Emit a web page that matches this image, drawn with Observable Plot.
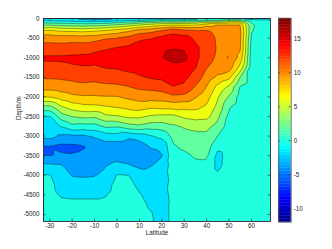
<!DOCTYPE html>
<html><head><meta charset="utf-8">
<script src="https://cdn.jsdelivr.net/npm/d3@7"></script>
<script src="https://cdn.jsdelivr.net/npm/@observablehq/plot@0.6"></script>
<style>
html,body{margin:0;padding:0;background:#fff;}
#wrap{position:relative;width:332px;height:249px;overflow:hidden;}
#main{position:absolute;left:0;top:0;}
#cbar{position:absolute;left:275px;top:0;}
</style></head><body>
<div id="wrap"><div id="main"></div><div id="cbar"></div></div>
<script>
// Grid columns (latitude) and rows (depth, m)
const lats = [-35,-30,-25,-20,-15,-10,-5,0,5,10,15,20,25,30,35,40,45,50,55,60,65,70];
const depths = [0,-50,-150,-300,-500,-750,-1000,-1250,-1500,-1750,-2000,-2250,-2500,-2750,-3000,-3250,-3500,-3750,-4000,-4250,-4500,-4750,-5000,-5250];
// One profile per latitude, values at the depths above
const values = [
/* -35 */ [-1.5,-0.4,3.3,8.2,11.3,12.8,14.3,13.5,12.2,10.8,8.1,3.6,-0.2,-0.9,-1.3,-4.05,-4.05,-1.6,0.1,0.6,0.7,0.6,0.5,0.5],
/* -30 */ [-1.5,-0.4,3.3,8.2,11.3,12.8,14.3,13.5,12.2,10.8,8.1,3.6,-0.2,-0.9,-1.3,-4.1,-4.1,-1.6,0.1,0.6,0.7,0.6,0.5,0.5],
/* -25 */ [-1.8,-0.6,3.0,7.6,11.2,12.8,14.3,13.6,12.3,11.0,9.0,5.8,3.0,0.1,-2.3,-4.4,-3.8,-1.8,-1.2,-0.8,-0.2,0.5,0.6,0.6],
/* -20 */ [-2.5,-0.8,2.8,7.4,11.2,13.0,14.4,13.8,12.5,11.2,9.6,7.0,4.05,1.5,-2.4,-4.3,-3.9,-3.0,-2.1,-1.2,-0.3,0.4,0.5,0.5],
/* -15 */ [-3.2,-1.0,2.6,7.2,11.1,13.0,14.5,13.9,12.8,11.4,9.8,7.5,4.5,1.2,-2.4,-4.1,-3.8,-3.2,-2.2,-1.3,-0.3,0.4,0.5,0.5],
/* -10 */ [-3.5,-1.2,2.8,7.6,11.2,13.5,14.6,13.8,12.6,11.3,9.8,7.6,4.3,1.2,-1.7,-3.4,-3.6,-3.0,-2.1,-1.2,-0.3,0.4,0.5,0.5],
/*  -5 */ [-3.5,-1.0,3.0,8.05,11.8,13.8,14.8,14.1,12.9,11.5,9.9,7.9,5.6,2.4,-1.0,-2.8,-3.0,-2.1,-1.4,-0.7,-0.1,0.4,0.5,0.5],
/*   0 */ [-3.0,-0.5,3.8,8.6,12.1,14.1,15.0,14.2,13.0,11.6,9.9,8.2,5.8,2.2,-0.8,-2.9,-2.8,-1.5,0.1,0.6,0.7,0.7,0.6,0.6],
/*   5 */ [-2.8,0.2,4.5,9.5,12.6,14.4,15.2,14.6,13.3,11.9,10.4,8.6,6.4,3.2,-1.6,-3.0,-3.0,-1.8,0.05,0.4,0.6,0.6,0.6,0.6],
/*  10 */ [-3.0,0.5,5.5,10.8,13.6,15.0,15.4,14.8,13.8,12.4,10.8,9.0,6.4,3.6,-1.0,-3.0,-3.6,-2.6,-0.6,-0.3,0.1,0.4,0.5,0.5],
/*  15 */ [-2.8,1.0,6.4,11.2,13.9,15.2,15.6,15.0,14.2,12.6,10.9,8.5,5.7,3.0,-0.2,-1.8,-2.6,-2.1,-1.2,-0.8,-0.4,-0.2,0.1,0.2],
/*  20 */ [-2.8,1.5,7.0,12.05,14.6,15.6,15.9,15.3,14.4,12.9,11.0,8.7,5.5,3.0,0.6,-1.6,-2.1,-1.5,-1.0,-0.7,-0.6,-0.5,-0.5,-0.5],
/*  25 */ [-2.8,1.4,7.5,13.0,15.2,15.9,16.8,15.3,14.8,13.95,11.6,8.8,5.4,3.7,2.6,1.8,1.3,1.0,0.8,0.6,0.4,0.3,0.3,0.3],
/*  30 */ [-2.6,1.6,7.4,12.4,15.0,15.8,16.5,15.2,14.5,13.6,11.4,8.6,6.4,4.2,3.3,2.4,1.6,1.2,0.9,0.7,0.6,0.5,0.4,0.4],
/*  35 */ [-2.3,2.05,7.6,12.05,13.6,14.5,14.6,14.1,13.2,11.8,10.2,8.5,6.8,4.5,3.5,2.8,2.2,1.6,1.2,0.9,0.7,0.6,0.5,0.5],
/*  40 */ [-1.9,2.6,9.0,12.2,12.9,13.2,12.9,12.1,11.1,9.95,8.8,7.7,6.6,4.6,3.5,2.9,2.3,1.5,1.0,0.8,0.7,0.6,0.5,0.5],
/*  45 */ [-1.8,2.8,10.1,11.3,11.7,11.8,11.6,11.0,9.6,7.4,6.2,5.4,4.4,3.2,1.95,0.6,-0.6,-0.5,0.3,0.6,0.6,0.5,0.5,0.5],
/*  50 */ [-1.6,4.4,10.2,11.2,11.5,11.8,12.1,11.0,8.6,5.6,3.8,2.2,1.5,1.2,1.0,0.9,0.8,0.8,0.7,0.7,0.6,0.6,0.6,0.6],
/*  55 */ [-1.5,4.8,10.2,10.5,10.6,10.4,9.3,7.4,3.95,1.8,1.2,1.0,0.9,0.8,0.8,0.8,0.7,0.7,0.7,0.6,0.6,0.6,0.6,0.6],
/*  60 */ [-1.2,1.2,2.4,2.2,1.6,1.2,1.0,0.9,0.8,0.8,0.8,0.8,0.7,0.7,0.7,0.7,0.7,0.7,0.6,0.6,0.6,0.6,0.6,0.6],
/*  65 */ [-1.0,0.6,0.8,1.0,1.0,0.9,0.8,0.8,0.8,0.7,0.7,0.7,0.7,0.7,0.7,0.7,0.6,0.6,0.6,0.6,0.6,0.6,0.6,0.6],
/*  70 */ [-1.0,0.6,0.8,1.0,1.0,0.9,0.8,0.8,0.8,0.7,0.7,0.7,0.7,0.7,0.7,0.7,0.6,0.6,0.6,0.6,0.6,0.6,0.6,0.6]
];
const levels = [-4,-2,0,2,4,6,8,10,12,14,16];
const xTicks = [-30,-20,-10,0,10,20,30,40,50,60];
const yTicks = [0,-500,-1000,-1500,-2000,-2500,-3000,-3500,-4000,-4500,-5000];
const cTicks = [-10,-5,0,5,10,15];
const cRange = [-12, 18];
const xRange = [-32.8, 68.5];
const yRange = [-5180, 0];

// jet colormap with 64 discrete rows (as in the colour bar)
function jetCont(t) {
  const c = v => Math.max(0, Math.min(1, v));
  const r = c(1.5 - Math.abs(4*t - 3)), g = c(1.5 - Math.abs(4*t - 2)), b = c(1.5 - Math.abs(4*t - 1));
  return `rgb(${Math.round(r*255)},${Math.round(g*255)},${Math.round(b*255)})`;
}
function jet64(t) {
  const k = Math.min(64, Math.max(1, Math.floor(t * 64 + 1e-9) + 1));
  return jetCont(k / 64);
}
const tOf = v => (v - cRange[0]) / (cRange[1] - cRange[0]);

const points = lats.flatMap((lat, i) => depths.map((depth, j) => ({lat, depth, v: values[i][j]})));

const W = 332, H = 249, mL = 43, mR = 62, mT = 18, mB = 28;
const fw = W - mL - mR, fh = H - mT - mB;
const tick = 2.5;
const font = {fontFamily: "'Liberation Sans', Arial, Helvetica, sans-serif", fontSize: "6.3px", color: "#222", background: "transparent"};
const colorScale = {type: "linear", domain: cRange, interpolate: t => jet64(t)};

const main = Plot.plot({
  width: W, height: H, marginLeft: mL, marginRight: mR, marginTop: mT, marginBottom: mB,
  style: font,
  x: {domain: xRange},
  y: {domain: yRange},
  color: colorScale,
  marks: [
    Plot.frame({fill: jet64(tOf(-6))}),
    Plot.contour(points, {x: "lat", y: "depth", fill: "v", interpolate: "barycentric", thresholds: levels,
      stroke: "#000", strokeWidth: 0.5, strokeOpacity: 0.75, clip: true}),
    Plot.ruleX(xTicks, {x: d => d, insetTop: fh - tick, stroke: "#222", strokeWidth: 0.6}),
    Plot.ruleX(xTicks, {x: d => d, insetBottom: fh - tick, stroke: "#222", strokeWidth: 0.6}),
    Plot.ruleY(yTicks, {y: d => d, insetRight: fw - tick, stroke: "#222", strokeWidth: 0.6}),
    Plot.ruleY(yTicks, {y: d => d, insetLeft: fw - tick, stroke: "#222", strokeWidth: 0.6}),
    Plot.axisX({ticks: xTicks, tickSize: 0, tickPadding: 2.3, tickFormat: d => String(d), label: null}),
    Plot.axisY({ticks: yTicks, tickSize: 0, tickPadding: 4, tickFormat: d => String(d), label: null}),
    Plot.text(["Latitude"], {frameAnchor: "bottom", dy: 13.5, text: d => d}),
    Plot.text(["Depth/m"], {frameAnchor: "left", dx: -25, rotate: -90, text: d => d}),
    Plot.frame({stroke: "#222", strokeWidth: 0.8})
  ]
});
document.getElementById("main").appendChild(main);

const nColors = 64;
const step = (cRange[1] - cRange[0]) / nColors;
const bands = d3.range(nColors).map(i => cRange[0] + i * step);
const cbW = 57, cbL = 3.3, barW = 12.4;
const cb = Plot.plot({
  width: cbW, height: H, marginLeft: cbL, marginRight: cbW - cbL - barW, marginTop: 18, marginBottom: 27.3,
  style: font,
  x: {domain: [0, 1], axis: null},
  y: {domain: cRange},
  color: colorScale,
  marks: [
    Plot.rect(bands, {x1: 0, x2: 1, y1: d => d, y2: d => d + step, fill: d => d + step / 2, stroke: d => d + step / 2, strokeWidth: 0.4}),
    Plot.ruleY(cTicks, {y: d => d, insetRight: barW - 2, stroke: "#222", strokeWidth: 0.6}),
    Plot.ruleY(cTicks, {y: d => d, insetLeft: barW - 2, stroke: "#222", strokeWidth: 0.6}),
    Plot.axisY({anchor: "right", ticks: cTicks, tickSize: 0, tickPadding: 2.5, tickFormat: d => String(d), label: null}),
    Plot.frame({stroke: "#555", strokeWidth: 0.8})
  ]
});
document.getElementById("cbar").appendChild(cb);
</script>
</body></html>
